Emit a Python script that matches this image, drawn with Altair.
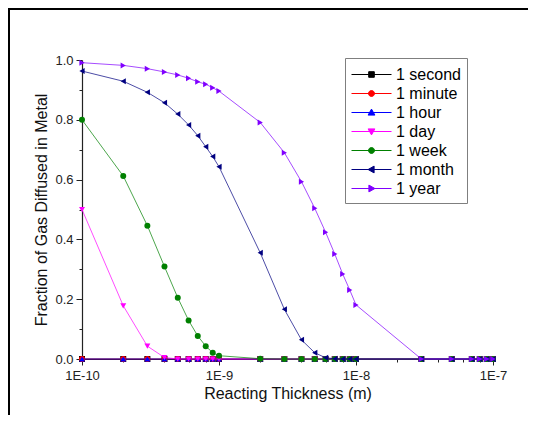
import altair as alt
import pandas as pd

# ---------------- data ----------------
thickness = [1e-10, 2e-10, 3e-10, 4e-10, 5e-10, 6e-10, 7e-10, 8e-10, 9e-10,
             1e-9, 2e-9, 3e-9, 4e-9, 5e-9, 6e-9, 7e-9, 8e-9, 9e-9,
             1e-8, 3e-8, 5e-8, 7e-8, 8e-8, 9e-8, 1e-7]

series_names = ["1 second", "1 minute", "1 hour", "1 day", "1 week", "1 month", "1 year"]

y_second = [0, 0, 0, 0, 0, 0, 0, 0, 0, 0, 0, 0, 0, 0, 0, 0, 0, 0, 0, 0, 0, 0, 0, 0, 0]
y_minute = [0, 0, 0, 0, 0, 0, 0, 0, 0, 0, 0, 0, 0, 0, 0, 0, 0, 0, 0, 0, 0, 0, 0, 0, 0]
y_hour = [0, 0, 0, 0, 0, 0, 0, 0, 0, 0, 0, 0, 0, 0, 0, 0, 0, 0, 0, 0, 0, 0, 0, 0, 0]
y_day = [0.50, 0.178, 0.043, 0.005, 0, 0, 0, 0, 0, 0, 0, 0, 0, 0, 0, 0, 0, 0, 0,
         0, 0, 0, 0, 0, 0]
y_week = [0.80, 0.612, 0.446, 0.309, 0.205, 0.129, 0.077, 0.043, 0.021, 0.011,
          0.001, 0, 0, 0, 0, 0, 0, 0, 0, 0, 0, 0, 0, 0, 0]
y_month = [0.963, 0.929, 0.892, 0.857, 0.819, 0.783, 0.747, 0.710, 0.677, 0.643,
           0.355, 0.166, 0.064, 0.021, 0.004, 0.001, 0, 0, 0, 0, 0, 0, 0, 0, 0]
y_year = [0.991, 0.982, 0.971, 0.960, 0.950, 0.939, 0.927, 0.919, 0.907, 0.896,
          0.791, 0.690, 0.593, 0.504, 0.424, 0.351, 0.284, 0.231, 0.181,
          0, 0, 0, 0, 0, 0]

y_ticks = [0.0, 0.1, 0.2, 0.3, 0.4, 0.5, 0.6, 0.7, 0.8, 0.9, 1.0]
x_ticks = [1e-10, 2e-10, 4e-10, 6e-10, 8e-10, 1e-9, 2e-9, 4e-9, 6e-9, 8e-9,
           1e-8, 2e-8, 4e-8, 6e-8, 8e-8, 1e-7]

# ---------------- styles ----------------
colors = ["#000000", "#FF0000", "#0000FF", "#FF00FF", "#008000", "#000080", "#8000FF"]
shapes = ["square", "circle", "triangle-up", "triangle-down", "circle",
          "triangle-left", "triangle-right"]
legend_paths = [
    "M-2,0L2,0M-0.28,-0.28L0.28,-0.28L0.28,0.28L-0.28,0.28Z",
    "M-2,0L2,0M-0.3,0A0.3,0.3 0 1,0 0.3,0A0.3,0.3 0 1,0 -0.3,0Z",
    "M-2,0L2,0M0,-0.34L0.34,0.26L-0.34,0.26Z",
    "M-2,0L2,0M0,0.34L0.34,-0.26L-0.34,-0.26Z",
    "M-2,0L2,0M-0.3,0A0.3,0.3 0 1,0 0.3,0A0.3,0.3 0 1,0 -0.3,0Z",
    "M-2,0L2,0M-0.34,0L0.26,-0.34L0.26,0.34Z",
    "M-2,0L2,0M0.34,0L-0.26,-0.34L-0.26,0.34Z",
]
FONT = "Liberation Sans"

values = [y_second, y_minute, y_hour, y_day, y_week, y_month, y_year]
rows = []
for name, ys in zip(series_names, values):
    for xv, yv in zip(thickness, ys):
        rows.append({"x": xv, "y": yv, "series": name})
df = pd.DataFrame(rows)

x_enc = alt.X(
    "x:Q",
    scale=alt.Scale(type="log", domain=[1e-10, 1e-7], nice=False),
    axis=alt.Axis(
        values=x_ticks,
        labelExpr="abs(log(datum.value)/LN10 - round(log(datum.value)/LN10)) < 0.01 ? '1E' + round(log(datum.value)/LN10) : ''",
        tickSize={"condition": {"test": "abs(log(datum.value)/LN10 - round(log(datum.value)/LN10)) < 0.01", "value": 6}, "value": 3},
        title="Reacting Thickness (m)",
        labelPadding=4,
        titlePadding=3,
        labelFlush=False,
        labelOverlap=False,
    ),
)
y_enc = alt.Y(
    "y:Q",
    scale=alt.Scale(domain=[0, 1.0], nice=False),
    axis=alt.Axis(
        values=y_ticks,
        labelExpr="round(datum.value*10) % 2 == 0 ? format(datum.value, '.1f') : ''",
        tickSize={"condition": {"test": "round(datum.value*10) % 2 == 1", "value": 3}, "value": 6},
        title="Fraction of Gas Diffused in Metal",
        labelPadding=3,
        titlePadding=5,
        labelOverlap=False,
    ),
)

layers = []
for name, col, shp in zip(series_names, colors, shapes):
    sub = alt.Chart(df).transform_filter(alt.datum.series == name)
    layers.append(sub.mark_line(color=col, strokeWidth=1, opacity=0.7).encode(x=x_enc, y=y_enc))
    layers.append(sub.mark_point(filled=True, color=col, shape=shp, size=36, opacity=1).encode(x=x_enc, y=y_enc))

leg = alt.Legend(
    title=None, orient="none", legendX=263, legendY=-2,
    symbolSize=400, symbolStrokeWidth=1, symbolOffset=10, labelOffset=14,
    labelFont=FONT, labelFontSize=16, labelColor="#000000",
    strokeColor="#7f7f7f", fillColor="#ffffff", padding=6, rowPadding=0,
    symbolOpacity=1,
)
legend_layer = alt.Chart(df).transform_filter("false").mark_point(opacity=1).encode(
    x=x_enc, y=y_enc,
    fill=alt.Fill("series:N", scale=alt.Scale(domain=series_names, range=colors), legend=leg),
    stroke=alt.Stroke("series:N", scale=alt.Scale(domain=series_names, range=colors), legend=leg),
    shape=alt.Shape("series:N", scale=alt.Scale(domain=series_names, range=legend_paths), legend=leg),
)
layers.append(legend_layer)

frame_data = alt.Data(values=[{"k": 1}])
top_line = alt.Chart(frame_data).mark_rule(color="#000000", strokeWidth=2).encode(
    x=alt.value(-74), x2=alt.value(460), y=alt.value(-51))
left_line = alt.Chart(frame_data).mark_rule(color="#000000", strokeWidth=2).encode(
    x=alt.value(-73), y=alt.value(-52), y2=alt.value(360))
layers += [top_line, left_line]

chart = alt.layer(*layers).properties(
    width=411, height=299,
    autosize=alt.AutoSizeParams(type="none"),
    padding={"left": 74, "top": 52, "right": 35, "bottom": 56},
    background="#ffffff",
).configure_view(stroke=None).configure_axis(
    grid=False, domainColor="#222222", tickColor="#222222", domainWidth=1.2,
    labelFont=FONT, labelFontSize=13, labelColor="#222222",
    titleFont=FONT, titleFontSize=16, titleFontWeight="normal", titleColor="#111111",
)

chart.save("out.html", embed_options={"renderer": "svg", "actions": False})
